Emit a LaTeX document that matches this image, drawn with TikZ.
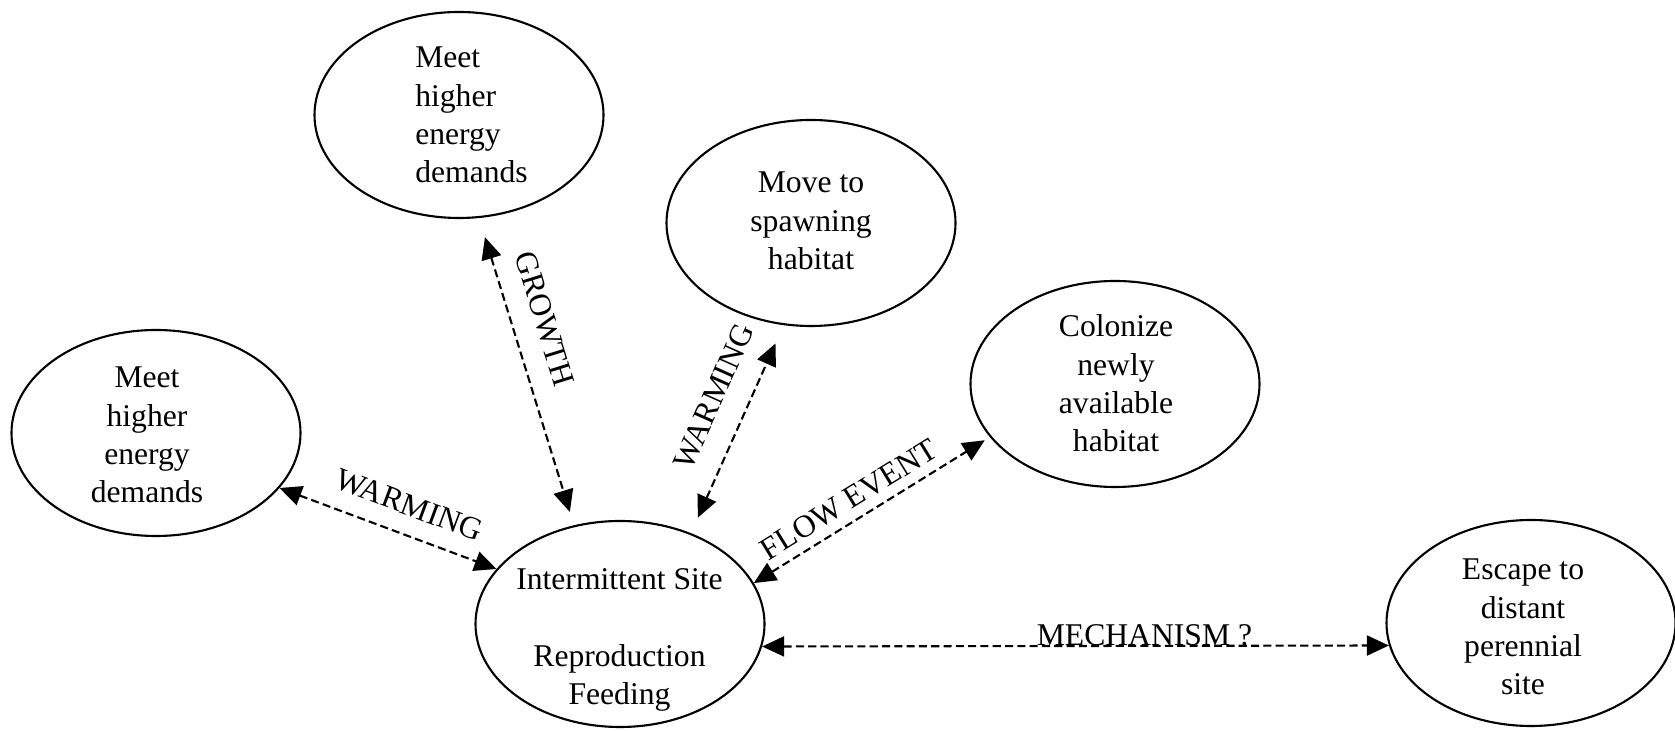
\documentclass[tikz,border=0pt]{standalone}
\usepackage{fontspec}
\setmainfont{Liberation Serif}
\usetikzlibrary{positioning,arrows.meta,shapes.geometric}

\begin{document}
\begin{tikzpicture}[
  font=\fontsize{9}{10.9}\selectfont,
  blob/.style={draw, ellipse, line width=0.6pt, minimum width=2.89cm, minimum height=2.06cm,
               inner sep=0pt},
  txt/.style={align=center, inner sep=0pt},
  lnk/.style={dash pattern=on 2.3pt off 1.2pt, line width=0.6pt,
              {Triangle[length=2.2mm, width=2mm]}-{Triangle[length=2.2mm, width=2mm]}},
  tag/.style={sloped, above}
]
\useasboundingbox (0,0) rectangle (16.75,7.31);

\node[blob] (grow) at (4.59,6.16) {};
\node[blob] (spawn) at (8.11,5.08) {};
\node[blob] (meet) at (1.56,2.98) {};
\node[blob] (colon) at (11.15,3.47) {};
\node[blob] (site) at (6.20,1.07) {};
\node[blob] (escape) at (15.31,1.08) {};

\node[txt, align=left] (growT) at (4.715,6.16) {Meet\\higher\\energy\\demands};
\node[txt] (spawnT) at (8.11,5.10) {Move to\\spawning\\habitat};
\node[txt] (meetT) at (1.47,2.96) {Meet\\higher\\energy\\demands};
\node[txt] (colonT) at (11.16,3.475) {Colonize\\newly\\available\\habitat};
\node[txt] (siteT) at (6.195,0.91) {Intermittent Site\\[10.9pt]Reproduction\\Feeding};
\node[txt] (escapeT) at (15.23,1.04) {Escape to\\distant\\perennial\\site};

\draw[lnk] (meet.-24) -- node[tag, pos=0.55, inner sep=5pt] (warmL) {WARMING} (site.156);
\draw[lnk, shorten <=0.2cm, shorten >=0.14cm] (grow.-79.3)
  -- node[tag, pos=0.36, inner sep=6pt] (growL) {GROWTH} (site.115);
\draw[lnk, shorten <=0.17cm, shorten >=0.2cm] (site.52.4)
  -- node[tag, pos=0.59, inner sep=6.5pt] (warmM) {WARMING} (spawn.-105.3);
\draw[lnk, shorten >=0.06cm] (site.17.1)
  -- node[tag, pos=0.45, inner sep=2.6pt] (flowL) {FLOW EVENT} (colon.203.8);
\draw[lnk] (site.-9.5)
  -- node[pos=0.61, anchor=base] (mechL) {MECHANISM ?} (escape.189.7);
\end{tikzpicture}
\end{document}
